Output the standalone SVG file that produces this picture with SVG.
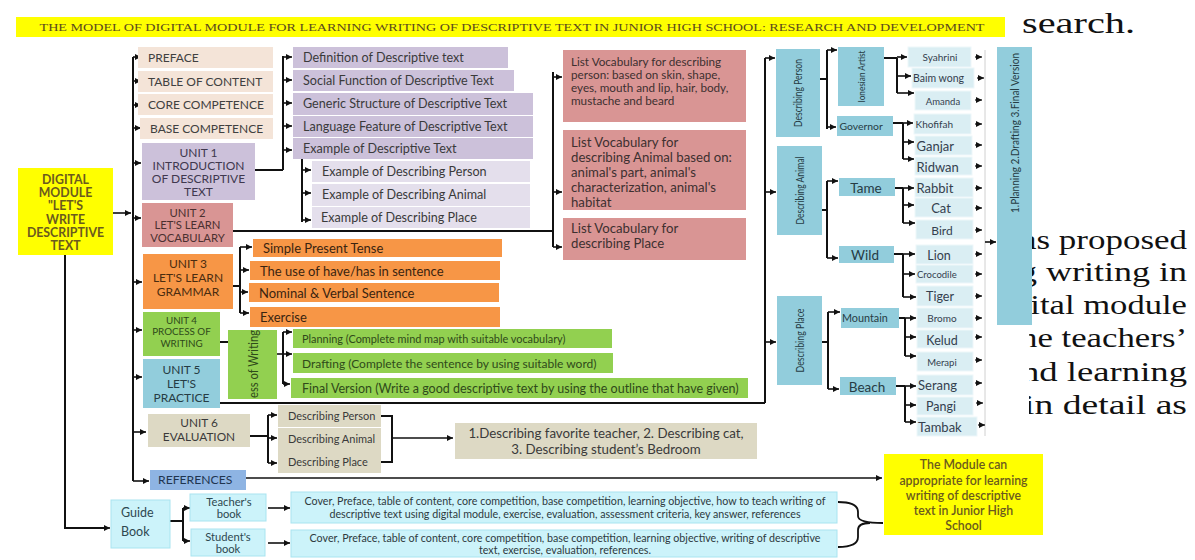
<svg xmlns="http://www.w3.org/2000/svg" width="1195" height="560" viewBox="0 0 1195 560">
<defs>
  <marker id="ah" viewBox="0 0 10 10" refX="10" refY="5" markerWidth="7" markerHeight="6" markerUnits="userSpaceOnUse" orient="auto">
    <path d="M0,0 L10,5 L0,10 z" fill="#111"/>
  </marker>
  <clipPath id="pageClip"><rect x="1029" y="200" width="166" height="240"/></clipPath>
  <style>
    .t{font-family:Lato,"Open Sans","Noto Sans",sans-serif;fill:#3a3a3a;font-size:11px}
    .c{text-anchor:middle}
    .b{font-weight:bold}
    .cap{font-size:12px;fill:#404040}
    .topic{font-size:12.6px}
    .peach{fill:#f4e4d8}
    .lav{fill:#ccc1da}
    .lav2{fill:#e4dfec}
    .rose{fill:#d99594}
    .orange{fill:#f79646}
    .green{fill:#92d050}
    .blue{fill:#92cddc}
    .leaf{fill:#daeef3;stroke:#eef7fa;stroke-width:1}
    .tan{fill:#ddd9c4}
    .ref{fill:#8eb4e3}
    .cyan{fill:#ccf3fa;stroke:#a9e4f0;stroke-width:1}
    .yel{fill:#ffff00}
    .yt{fill:#6b5a1e}
    .bt{fill:#263c44}
    .lt{fill:#34404e}
    .ln{fill:none;stroke:#111;stroke-width:2}
    .ar{fill:none;stroke:#111;stroke-width:1.6;marker-end:url(#ah)}
    .pg{font-family:"Liberation Serif","Times New Roman",serif;font-size:28px;fill:#111}
  </style>
</defs>
<rect width="1195" height="560" fill="#fff"/>

<!-- page text around the figure -->
<text class="pg" x="1022" y="33" textLength="113" lengthAdjust="spacingAndGlyphs" style="font-size:29px">search.</text>
<g clip-path="url(#pageClip)" class="pg" text-anchor="end">
  <text x="1187" y="249" textLength="166" lengthAdjust="spacingAndGlyphs">as proposed</text>
  <text x="1187" y="281" textLength="168" lengthAdjust="spacingAndGlyphs">g writing in</text>
  <text x="1187" y="314" textLength="174" lengthAdjust="spacingAndGlyphs">gital module</text>
  <text x="1187" y="347" textLength="167" lengthAdjust="spacingAndGlyphs">he teachers’</text>
  <text x="1187" y="381" textLength="166" lengthAdjust="spacingAndGlyphs">nd learning</text>
  <text x="1187" y="414" textLength="163" lengthAdjust="spacingAndGlyphs">in detail as</text>
</g>

<!-- title bar -->
<g id="title">
  <rect x="16" y="17" width="989" height="20" class="yel"/>
  <text x="512" y="31" text-anchor="middle" textLength="945" lengthAdjust="spacingAndGlyphs" style="font-family:'Liberation Serif',serif;font-size:11px;fill:#5b4a1e">THE MODEL OF DIGITAL MODULE FOR LEARNING WRITING OF DESCRIPTIVE TEXT IN JUNIOR HIGH SCHOOL: RESEARCH AND DEVELOPMENT</text>
</g>

<!-- connectors -->
<g id="connectors">
  <path class="ln" d="M133,57 V481"/>
  <path class="ar" d="M113,213 H131"/>
  <path class="ar" d="M133,57 H141"/>
  <path class="ar" d="M133,81 H141"/>
  <path class="ar" d="M133,105 H141"/>
  <path class="ar" d="M133,128 H141"/>
  <path class="ar" d="M133,163 H141"/>
  <path class="ar" d="M133,218 H141"/>
  <path class="ar" d="M133,282 H142"/>
  <path class="ar" d="M133,330 H142"/>
  <path class="ar" d="M133,377 H142"/>
  <path class="ar" d="M133,432 H146"/>
  <path class="ar" d="M133,481 H149"/>
  <path class="ln" d="M65,255 V528 H108"/>
  <path class="ar" d="M100,528 H110"/>

  <!-- unit 1 -->
  <path class="ln" d="M255,170 H283 M283,56 V170"/>
  <path class="ar" d="M283,57 H292"/>
  <path class="ar" d="M283,80 H292"/>
  <path class="ar" d="M283,103 H292"/>
  <path class="ar" d="M283,126 H292"/>
  <path class="ar" d="M283,150 H292"/>
  <path class="ln" d="M302,159 V222"/>
  <path class="ar" d="M302,170 H311"/>
  <path class="ar" d="M302,193 H311"/>
  <path class="ar" d="M302,220 H311"/>

  <!-- unit 2 -->
  <path class="ln" d="M233,231 H553 M553,72 V247"/>
  <path class="ar" d="M553,77 H562"/>
  <path class="ar" d="M553,192 H562"/>
  <path class="ar" d="M553,247 H562"/>

  <!-- unit 3 -->
  <path class="ln" d="M233,286 H240 M240,247 V313"/>
  <path class="ar" d="M240,247 H252"/>
  <path class="ar" d="M240,270 H249"/>
  <path class="ar" d="M240,292 H248"/>
  <path class="ar" d="M240,313 H249"/>

  <!-- unit 4 -->
  <path class="ln" d="M220,342 H228"/>
  <path class="ln" d="M283,332 V384"/>
  <path class="ar" d="M277,354 H292"/>
  <path class="ar" d="M283,332 H292"/>
  <path class="ar" d="M283,384 H290"/>

  <!-- unit 5 and the describing column -->
  <path class="ln" d="M220,403 H765 M765,58 V403"/>
  <path class="ar" d="M765,58 H775"/>
  <path class="ar" d="M765,192 H776"/>
  <path class="ar" d="M765,342 H776"/>

  <path class="ln" d="M820,79 H827 M827,50 V129"/>
  <path class="ar" d="M827,50 H837"/>
  <path class="ar" d="M827,127 H836"/>
  <path class="ln" d="M884,58 H897 M897,58 V93"/>
  <path class="ar" d="M897,57 H907"/>
  <path class="ar" d="M897,76 H911"/>
  <path class="ar" d="M897,93 H914"/>
  <path class="ln" d="M893,123 H903 M903,123 V159"/>
  <path class="ar" d="M903,123 H913"/>
  <path class="ar" d="M903,142 H914"/>
  <path class="ar" d="M903,159 H914"/>

  <path class="ln" d="M822,210 H827 M827,181 V258"/>
  <path class="ar" d="M827,181 H838"/>
  <path class="ar" d="M827,258 H838"/>
  <path class="ln" d="M895,188 H903 M903,188 V223"/>
  <path class="ar" d="M903,188 H914"/>
  <path class="ar" d="M903,205 H914"/>
  <path class="ar" d="M903,223 H915"/>
  <path class="ln" d="M894,254 H903 M903,254 V297"/>
  <path class="ar" d="M903,254 H915"/>
  <path class="ar" d="M903,274 H915"/>
  <path class="ar" d="M903,297 H916"/>

  <path class="ln" d="M822,342 H828 M828,312 V389"/>
  <path class="ar" d="M828,312 H840"/>
  <path class="ar" d="M828,389 H839"/>
  <path class="ln" d="M899,318 H905 M905,318 V356"/>
  <path class="ar" d="M905,318 H916"/>
  <path class="ar" d="M905,337 H916"/>
  <path class="ar" d="M905,356 H916"/>
  <path class="ln" d="M896,386 H905 M905,386 V422"/>
  <path class="ar" d="M905,386 H916"/>
  <path class="ar" d="M905,405 H916"/>
  <path class="ar" d="M905,422 H916"/>

  <!-- leaves to the writing stages -->
  <path d="M985,50 V436" fill="none" stroke="#d0d0d0" stroke-width="1"/>
  <g class="ar" style="stroke-width:1.2">
    <path d="M975,57 H982"/><path d="M977,78 H984"/><path d="M975,100 H982"/>
    <path d="M975,124 H982"/><path d="M975,145 H982"/><path d="M975,166 H982"/>
    <path d="M975,188 H982"/><path d="M975,208 H982"/><path d="M975,230 H982"/>
    <path d="M975,254 H982"/><path d="M975,274 H982"/><path d="M975,296 H982"/>
    <path d="M975,318 H982"/><path d="M975,337 H982"/><path d="M975,360 H982"/>
    <path d="M975,383 H982"/><path d="M976,403 H983"/><path d="M978,425 H985"/>
  </g>
  <path class="ar" d="M985,242 H996"/>

  <!-- unit 6 -->
  <path class="ln" d="M250,436 H268 M268,415 V463"/>
  <path class="ar" d="M268,415 H277"/>
  <path class="ar" d="M268,438 H277"/>
  <path class="ar" d="M268,463 H277"/>
  <path class="ln" d="M381,416 H392 V462 H381"/>
  <path class="ar" d="M392,438 H453"/>

  <!-- references -->
  <path class="ar" d="M246,478 H882"/>

  <!-- guide book -->
  <path class="ln" d="M170,521 H183 M183,508 V541"/>
  <path class="ar" d="M183,508 H190"/>
  <path class="ar" d="M183,541 H190"/>
  <path class="ar" d="M268,508 H290"/>
  <path class="ar" d="M268,543 H290"/>
  <path class="ln" style="stroke-width:1.8" d="M838,502 Q858,502 858,512 V516 Q858,523 883,523 M838,547 Q858,547 858,537 V530 Q858,523 870,523"/>
</g>

<!-- root -->
<g id="digital-module">
  <rect x="18" y="168" width="95" height="87" class="yel"/>
  <g class="t c b yt" style="font-size:12.3px">
    <text x="65.5" y="184">DIGITAL</text>
    <text x="65.5" y="197">MODULE</text>
    <text x="65.5" y="210">"LET'S</text>
    <text x="65.5" y="224">WRITE</text>
    <text x="65.5" y="237">DESCRIPTIVE</text>
    <text x="65.5" y="250">TEXT</text>
  </g>
</g>

<!-- front matter -->
<g id="preface"><rect x="138" y="47" width="135" height="21" class="peach"/><text class="t cap" x="148" y="62">PREFACE</text></g>
<g id="table-of-content"><rect x="138" y="71" width="135" height="21" class="peach"/><text class="t cap" x="148" y="86">TABLE OF CONTENT</text></g>
<g id="core-competence"><rect x="138" y="94" width="135" height="21" class="peach"/><text class="t cap" x="148" y="109">CORE COMPETENCE</text></g>
<g id="base-competence"><rect x="140" y="118" width="133" height="21" class="peach"/><text class="t cap" x="150" y="133">BASE COMPETENCE</text></g>

<!-- units -->
<g id="unit1">
  <rect x="142" y="143" width="113" height="57" class="lav"/>
  <g class="t c" style="font-size:12px;fill:#40384e">
    <text x="198.5" y="157">UNIT 1</text><text x="198.5" y="170">INTRODUCTION</text>
    <text x="198.5" y="183">OF DESCRIPTIVE</text><text x="198.5" y="196">TEXT</text>
  </g>
</g>
<g id="unit2">
  <rect x="142" y="203" width="91" height="44" class="rose"/>
  <g class="t c" style="font-size:11.3px;fill:#4a3030">
    <text x="187.5" y="217">UNIT 2</text><text x="187.5" y="229">LET'S LEARN</text><text x="187.5" y="242">VOCABULARY</text>
  </g>
</g>
<g id="unit3">
  <rect x="143" y="254" width="90" height="55" class="orange"/>
  <g class="t c" style="font-size:12px;fill:#4a2c10">
    <text x="188" y="268">UNIT 3</text><text x="188" y="282">LET'S LEARN</text><text x="188" y="296">GRAMMAR</text>
  </g>
</g>
<g id="unit4">
  <rect x="143" y="312" width="77" height="44" class="green"/>
  <g class="t c" style="font-size:9.8px;fill:#2f4a1a">
    <text x="181.5" y="324">UNIT 4</text><text x="181.5" y="335">PROCESS OF</text><text x="181.5" y="347">WRITING</text>
  </g>
</g>
<g id="unit5">
  <rect x="143" y="359" width="77" height="49" class="blue"/>
  <g class="t c" style="font-size:12px;fill:#263c44">
    <text x="181.5" y="374">UNIT 5</text><text x="181.5" y="388">LET'S</text><text x="181.5" y="402">PRACTICE</text>
  </g>
</g>
<g id="unit6">
  <rect x="148" y="414" width="102" height="33" class="tan"/>
  <g class="t c" style="font-size:11.8px">
    <text x="199" y="427">UNIT 6</text><text x="199" y="441">EVALUATION</text>
  </g>
</g>
<g id="references"><rect x="150" y="470" width="96" height="20" class="ref"/><text class="t" x="158" y="484" style="fill:#1f3550;font-size:12.2px">REFERENCES</text></g>

<!-- unit 1 topics -->
<g id="definition"><rect x="293" y="47" width="215" height="21" class="lav"/><text class="t topic" x="303" y="62">Definition of Descriptive text</text></g>
<g id="social-function"><rect x="293" y="70" width="221" height="21" class="lav"/><text class="t topic" x="303" y="85">Social Function of Descriptive Text</text></g>
<g id="generic-structure"><rect x="293" y="93" width="240" height="22" class="lav"/><text class="t topic" x="303" y="108">Generic Structure of Descriptive Text</text></g>
<g id="language-feature"><rect x="293" y="116" width="240" height="21" class="lav"/><text class="t topic" x="303" y="131">Language Feature of Descriptive Text</text></g>
<g id="example"><rect x="293" y="138" width="240" height="21" class="lav"/><text class="t topic" x="303" y="153">Example of Descriptive Text</text></g>
<g id="example-person"><rect x="312" y="161" width="218" height="21" class="lav2"/><text class="t topic" x="322" y="176">Example of Describing Person</text></g>
<g id="example-animal"><rect x="312" y="184" width="218" height="22" class="lav2"/><text class="t topic" x="322" y="199">Example of Describing Animal</text></g>
<g id="example-place"><rect x="312" y="207" width="218" height="21" class="lav2"/><text class="t topic" x="321" y="222">Example of Describing Place</text></g>

<!-- unit 2 vocabulary -->
<g id="vocab-person">
  <rect x="563" y="50" width="183" height="72" class="rose"/>
  <g class="t" style="font-size:11.7px;fill:#3d3030">
    <text x="571" y="66">List Vocabulary for describing</text>
    <text x="571" y="79">person: based on skin, shape,</text>
    <text x="571" y="92">eyes, mouth and lip, hair, body,</text>
    <text x="571" y="105">mustache and beard</text>
  </g>
</g>
<g id="vocab-animal">
  <rect x="563" y="130" width="183" height="80" class="rose"/>
  <g class="t" style="font-size:13.2px;fill:#3d3030">
    <text x="571" y="147">List Vocabulary for</text>
    <text x="571" y="162">describing Animal based on:</text>
    <text x="571" y="177">animal's part, animal's</text>
    <text x="571" y="192">characterization, animal's</text>
    <text x="571" y="207">habitat</text>
  </g>
</g>
<g id="vocab-place">
  <rect x="563" y="218" width="183" height="42" class="rose"/>
  <g class="t" style="font-size:13.2px;fill:#3d3030">
    <text x="571" y="233">List Vocabulary for</text>
    <text x="571" y="248">describing Place</text>
  </g>
</g>

<!-- unit 3 grammar -->
<g class="t" style="font-size:13px;fill:#3a2410">
<g id="simple-present"><rect x="253" y="239" width="249" height="18" class="orange"/><text x="263" y="253">Simple Present Tense</text></g>
<g id="have-has"><rect x="250" y="261" width="250" height="19" class="orange"/><text x="260" y="275.5">The use of have/has in sentence</text></g>
<g id="nominal-verbal"><rect x="249" y="283" width="250" height="19" class="orange"/><text x="259" y="297.5">Nominal &amp; Verbal Sentence</text></g>
<g id="exercise"><rect x="250" y="307" width="250" height="20" class="orange"/><text x="260" y="322">Exercise</text></g>
</g>

<!-- unit 4 writing process -->
<g id="process-of-writing">
  <rect x="228" y="330" width="49" height="69" class="green"/>
  <text class="t c" transform="rotate(-90 254 364)" x="254" y="368" textLength="68" lengthAdjust="spacingAndGlyphs" style="font-size:12.5px;fill:#2f4a1a">ess of Writing</text>
</g>
<g id="planning"><rect x="293" y="329" width="319" height="19" class="green"/><text class="t" x="302" y="342.5" style="font-size:10.9px;fill:#2f4a1a">Planning (Complete mind map with suitable vocabulary)</text></g>
<g id="drafting"><rect x="293" y="353" width="320" height="20" class="green"/><text class="t" x="302" y="367.5" style="font-size:12px;fill:#2f4a1a">Drafting (Complete the sentence by using suitable word)</text></g>
<g id="final-version"><rect x="291" y="378" width="457" height="20" class="green"/><text class="t" x="302" y="392.5" style="font-size:12.5px;fill:#2f4a1a">Final Version (Write a good descriptive text by using the outline that have given)</text></g>

<!-- unit 5 practice -->
<g id="describing-person"><rect x="776" y="49" width="44" height="88" class="blue"/><text class="t c bt" transform="rotate(-90 798 93)" x="798" y="97" textLength="68" lengthAdjust="spacingAndGlyphs">Describing Person</text></g>
<g id="describing-animal"><rect x="777" y="146" width="45" height="89" class="blue"/><text class="t c bt" transform="rotate(-90 799.5 190.5)" x="799.5" y="194.5" textLength="68" lengthAdjust="spacingAndGlyphs">Describing Animal</text></g>
<g id="describing-place"><rect x="777" y="296" width="45" height="89" class="blue"/><text class="t c bt" transform="rotate(-90 799.5 340.5)" x="799.5" y="344.5" textLength="64" lengthAdjust="spacingAndGlyphs">Describing Place</text></g>

<g id="ionesian-artist"><rect x="838" y="47" width="46" height="59" class="blue"/><text class="t c bt" transform="rotate(-90 861 76.5)" x="861" y="80" textLength="52" lengthAdjust="spacingAndGlyphs" style="font-size:9.5px">Ionesian Artist</text></g>
<g id="governor"><rect x="837" y="116" width="56" height="20" class="blue"/><text class="t bt" x="839.5" y="130" style="font-size:10.4px">Governor</text></g>
<g id="tame"><rect x="839" y="178" width="56" height="18" class="blue"/><text class="t c bt" x="866" y="192.5" style="font-size:13.5px">Tame</text></g>
<g id="wild"><rect x="839" y="246" width="55" height="17" class="blue"/><text class="t c bt" x="865" y="260" style="font-size:13.5px">Wild</text></g>
<g id="mountain"><rect x="841" y="308" width="58" height="20" class="blue"/><text class="t bt" x="842" y="322" style="font-size:10.8px">Mountain</text></g>
<g id="beach"><rect x="840" y="377" width="56" height="18" class="blue"/><text class="t c bt" x="867" y="391.5" style="font-size:13.5px">Beach</text></g>

<g id="syahrini"><rect x="908" y="47" width="63" height="20" class="leaf"/><text class="t c lt" x="940" y="61" style="font-size:10px">Syahrini</text></g>
<g id="baim-wong"><rect x="912" y="68" width="62" height="20" class="leaf"/><text class="t lt" x="913" y="82" style="font-size:10.5px">Baim wong</text></g>
<g id="amanda"><rect x="915" y="91" width="56" height="19" class="leaf"/><text class="t c lt" x="943" y="104.5" style="font-size:9.5px">Amanda</text></g>
<g id="khofifah"><rect x="914" y="114" width="57" height="20" class="leaf"/><text class="t lt" x="915.5" y="128" style="font-size:10px">Khofifah</text></g>
<g id="ganjar"><rect x="915" y="136" width="57" height="19" class="leaf"/><text class="t lt" x="916.5" y="150.5" style="font-size:13px">Ganjar</text></g>
<g id="ridwan"><rect x="915" y="157" width="57" height="18" class="leaf"/><text class="t lt" x="916.5" y="171.5" style="font-size:13px">Ridwan</text></g>
<g id="rabbit"><rect x="915" y="178" width="58" height="19" class="leaf"/><text class="t lt" x="916.5" y="192.5" style="font-size:13px">Rabbit</text></g>
<g id="cat"><rect x="915" y="198" width="58" height="19" class="leaf"/><text class="t c lt" x="941" y="212.5" style="font-size:13px">Cat</text></g>
<g id="bird"><rect x="916" y="220" width="57" height="19" class="leaf"/><text class="t c lt" x="942" y="234.5" style="font-size:12px">Bird</text></g>
<g id="lion"><rect x="916" y="245" width="57" height="19" class="leaf"/><text class="t c lt" x="939" y="259.5" style="font-size:12.5px">Lion</text></g>
<g id="crocodile"><rect x="916" y="265" width="57" height="18" class="leaf"/><text class="t lt" x="917" y="278" style="font-size:9.5px">Crocodile</text></g>
<g id="tiger"><rect x="917" y="286" width="56" height="20" class="leaf"/><text class="t c lt" x="940" y="301" style="font-size:12.5px">Tiger</text></g>
<g id="bromo"><rect x="917" y="308" width="56" height="20" class="leaf"/><text class="t c lt" x="942" y="322" style="font-size:10px">Bromo</text></g>
<g id="kelud"><rect x="917" y="330" width="56" height="18" class="leaf"/><text class="t c lt" x="942" y="344.5" style="font-size:12.5px">Kelud</text></g>
<g id="merapi"><rect x="917" y="352" width="56" height="19" class="leaf"/><text class="t c lt" x="942" y="366" style="font-size:9.5px">Merapi</text></g>
<g id="serang"><rect x="917" y="375" width="56" height="20" class="leaf"/><text class="t lt" x="918" y="390" style="font-size:13px">Serang</text></g>
<g id="pangi"><rect x="917" y="397" width="56" height="18" class="leaf"/><text class="t c lt" x="941" y="411" style="font-size:12.5px">Pangi</text></g>
<g id="tambak"><rect x="917" y="417" width="60" height="19" class="leaf"/><text class="t lt" x="918" y="432" style="font-size:13px">Tambak</text></g>

<g id="writing-stages">
  <rect x="997" y="47" width="35" height="278" class="blue"/>
  <text class="t c bt" transform="rotate(-90 1014.5 133)" x="1014.5" y="137.5" textLength="160" lengthAdjust="spacingAndGlyphs" style="font-size:12px">1.Planning 2.Drafting 3.Final Version</text>
</g>

<!-- unit 6 evaluation -->
<g id="eval-person"><rect x="278" y="405" width="103" height="22" class="tan"/><text class="t" x="288" y="420">Describing Person</text></g>
<g id="eval-animal"><rect x="278" y="428" width="103" height="23" class="tan"/><text class="t" x="288" y="443">Describing Animal</text></g>
<g id="eval-place"><rect x="278" y="451" width="103" height="22" class="tan"/><text class="t" x="288" y="466">Describing Place</text></g>
<g id="eval-tasks">
  <rect x="455" y="423" width="302" height="36" class="tan"/>
  <g class="t c" style="font-size:13.3px"><text x="606" y="438">1.Describing favorite teacher, 2. Describing cat,</text><text x="606" y="454">3. Describing student’s Bedroom</text></g>
</g>

<!-- outcome -->
<g id="module-outcome">
  <rect x="884" y="454" width="159" height="81" class="yel"/>
  <g class="t c yt" style="font-size:12.3px;font-weight:600">
    <text x="963.5" y="469">The Module can</text>
    <text x="963.5" y="484.5">appropriate for learning</text>
    <text x="963.5" y="500">writing of descriptive</text>
    <text x="963.5" y="515">text in Junior High</text>
    <text x="963.5" y="530">School</text>
  </g>
</g>

<!-- guide book -->
<g id="guide-book">
  <rect x="111" y="500" width="59" height="48" class="cyan"/>
  <g class="t" style="font-size:12.5px;fill:#2e4850"><text x="121" y="517">Guide</text><text x="121" y="536">Book</text></g>
</g>
<g id="teachers-book">
  <rect x="190" y="494" width="76" height="27" class="cyan"/>
  <g class="t c" style="font-size:11.2px;fill:#2e4850"><text x="229" y="505.5">Teacher's</text><text x="229" y="518">book</text></g>
</g>
<g id="students-book">
  <rect x="191" y="529" width="74" height="27" class="cyan"/>
  <g class="t c" style="font-size:11.2px;fill:#2e4850"><text x="228" y="540.5">Student's</text><text x="228" y="553">book</text></g>
</g>
<g id="teachers-contents">
  <rect x="291" y="492" width="546" height="31" class="cyan"/>
  <g class="t c" style="font-size:10.7px;fill:#2e3a40">
    <text x="565" y="504.5">Cover, Preface, table of content, core competition, base competition, learning objective, how to teach writing of</text>
    <text x="565" y="518">descriptive text using digital module, exercise, evaluation, assessment criteria, key answer, references</text>
  </g>
</g>
<g id="students-contents">
  <rect x="291" y="530" width="546" height="27" class="cyan"/>
  <g class="t c" style="font-size:10.7px;fill:#2e3a40">
    <text x="565" y="541.5">Cover, Preface, table of content, core competition, base competition, learning objective, writing of descriptive</text>
    <text x="565" y="554">text, exercise, evaluation, references.</text>
  </g>
</g>
</svg>
